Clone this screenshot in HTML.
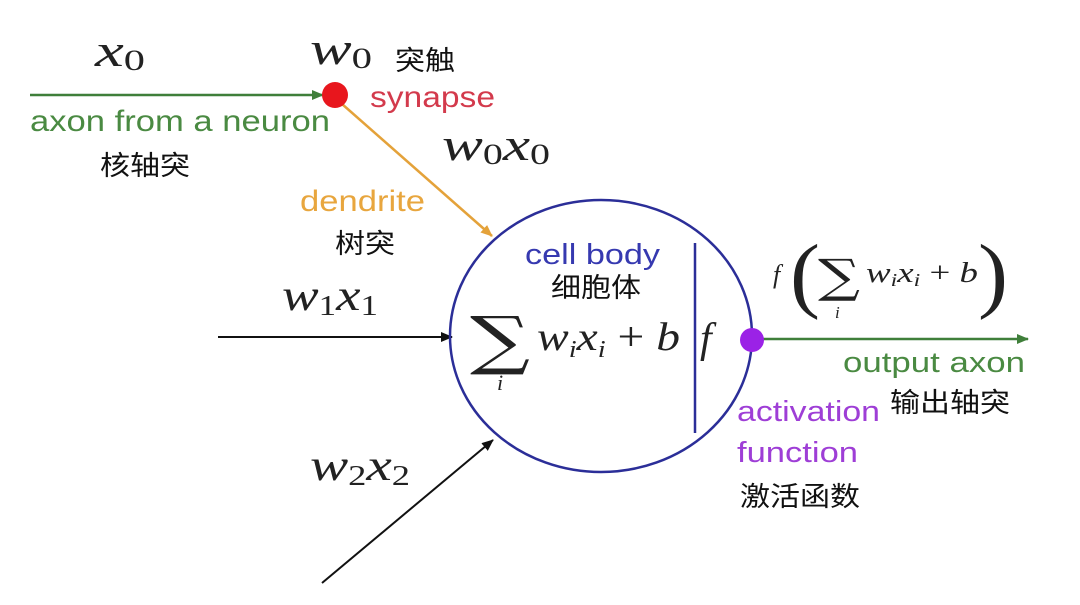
<!DOCTYPE html>
<html><head><meta charset="utf-8"><style>
html,body{margin:0;padding:0;background:#fff;}
svg{display:block;}
.m{font-family:"Liberation Serif",serif;font-style:italic;fill:#222;}
.s{font-family:"Liberation Sans",sans-serif;}
.c{font-family:"Liberation Sans","Noto Sans CJK SC",sans-serif;fill:#111;font-size:27px;}
</style></head><body>
<svg width="1080" height="605" viewBox="0 0 1080 605">
<defs>
<marker id="ag" markerWidth="12" markerHeight="10" refX="11" refY="5" orient="auto" markerUnits="userSpaceOnUse"><path d="M0,0 L12,5 L0,10z" fill="#3f7f3a"/></marker>
<marker id="ao" markerWidth="12" markerHeight="10" refX="11" refY="5" orient="auto" markerUnits="userSpaceOnUse"><path d="M0,0 L12,5 L0,10z" fill="#e4a23a"/></marker>
<marker id="ak" markerWidth="12" markerHeight="10" refX="11" refY="5" orient="auto" markerUnits="userSpaceOnUse"><path d="M0,0 L12,5 L0,10z" fill="#111"/></marker>
</defs>
<line x1="30" y1="95" x2="323" y2="95" stroke="#3f7f3a" stroke-width="2.5" marker-end="url(#ag)"/>
<line x1="342" y1="104" x2="492" y2="236" stroke="#e4a23a" stroke-width="2.5" marker-end="url(#ao)"/>
<line x1="218" y1="337" x2="452" y2="337" stroke="#111" stroke-width="2" marker-end="url(#ak)"/>
<line x1="322" y1="583" x2="493" y2="440" stroke="#111" stroke-width="2" marker-end="url(#ak)"/>
<ellipse cx="601" cy="336" rx="151" ry="136" fill="none" stroke="#2b2e98" stroke-width="2.5"/>
<line x1="695" y1="243" x2="695" y2="433" stroke="#2b2e98" stroke-width="2.5"/>
<line x1="760" y1="339" x2="1028" y2="339" stroke="#3f7f3a" stroke-width="2.5" marker-end="url(#ag)"/>
<circle cx="335" cy="95" r="13" fill="#e8161d"/>
<circle cx="752" cy="340" r="12" fill="#9b22e6"/>
<text class="m" x="95" y="66" font-size="46" textLength="50" lengthAdjust="spacingAndGlyphs">x<tspan font-size="30" font-style="normal" dy="4">0</tspan></text>
<text class="m" x="310" y="64" font-size="46" textLength="62" lengthAdjust="spacingAndGlyphs">w<tspan font-size="30" font-style="normal" dy="4">0</tspan></text>
<text class="c" x="395" y="70" textLength="60" lengthAdjust="spacingAndGlyphs">突触</text>
<text class="s" x="370" y="107" font-size="30" fill="#d33a4c" textLength="125" lengthAdjust="spacingAndGlyphs">synapse</text>
<text class="s" x="30" y="131" font-size="30" fill="#4a8a42" textLength="300" lengthAdjust="spacingAndGlyphs">axon from a neuron</text>
<text class="c" x="100" y="175" textLength="90" lengthAdjust="spacingAndGlyphs">核轴突</text>
<text class="m" x="442" y="160" font-size="46" textLength="108" lengthAdjust="spacingAndGlyphs">w<tspan font-size="30" font-style="normal" dy="4">0</tspan><tspan dy="-4">x</tspan><tspan font-size="30" font-style="normal" dy="4">0</tspan></text>
<text class="s" x="300" y="211" font-size="30" fill="#e8a63e" textLength="125" lengthAdjust="spacingAndGlyphs">dendrite</text>
<text class="c" x="335" y="253" textLength="60" lengthAdjust="spacingAndGlyphs">树突</text>
<text class="s" x="525" y="264" font-size="29" fill="#3639b0" textLength="135" lengthAdjust="spacingAndGlyphs">cell body</text>
<text class="c" x="551" y="297" textLength="90" lengthAdjust="spacingAndGlyphs">细胞体</text>
<text x="470" y="362" font-family="DejaVu Serif,serif" font-size="64" fill="#222" textLength="60" lengthAdjust="spacingAndGlyphs">∑</text>
<text class="m" x="497" y="390" font-size="22">i</text>
<text class="m" x="537" y="350" font-size="40" textLength="143" lengthAdjust="spacingAndGlyphs">w<tspan font-size="24" dy="7">i</tspan><tspan dy="-7">x</tspan><tspan font-size="24" dy="7">i</tspan><tspan dy="-7" font-style="normal"> + </tspan>b</text>
<text class="m" x="700" y="352" font-size="42">f</text>
<text class="m" x="773" y="283" font-size="26">f</text>
<text x="790" y="302" font-family="Liberation Serif,serif" font-size="84" fill="#222" textLength="30" lengthAdjust="spacingAndGlyphs">(</text>
<text x="818" y="292" font-family="DejaVu Serif,serif" font-size="46" fill="#222" textLength="42" lengthAdjust="spacingAndGlyphs">∑</text>
<text class="m" x="835" y="318" font-size="17">i</text>
<text class="m" x="866" y="282" font-size="28" textLength="112" lengthAdjust="spacingAndGlyphs">w<tspan font-size="18" dy="4">i</tspan><tspan dy="-4">x</tspan><tspan font-size="18" dy="4">i</tspan><tspan dy="-4" font-style="normal"> + </tspan>b</text>
<text x="978" y="302" font-family="Liberation Serif,serif" font-size="84" fill="#222" textLength="30" lengthAdjust="spacingAndGlyphs">)</text>
<text class="s" x="843" y="372" font-size="29" fill="#4a8a42" textLength="182" lengthAdjust="spacingAndGlyphs">output axon</text>
<text class="c" x="890" y="412" textLength="120" lengthAdjust="spacingAndGlyphs">输出轴突</text>
<text class="s" x="737" y="421" font-size="29" fill="#9e3ed6" textLength="143" lengthAdjust="spacingAndGlyphs">activation</text>
<text class="s" x="737" y="462" font-size="29" fill="#9e3ed6" textLength="121" lengthAdjust="spacingAndGlyphs">function</text>
<text class="c" x="740" y="506" textLength="120" lengthAdjust="spacingAndGlyphs">激活函数</text>
<text class="m" x="282" y="310" font-size="44" textLength="96" lengthAdjust="spacingAndGlyphs">w<tspan font-size="28" font-style="normal" dy="5">1</tspan><tspan dy="-5">x</tspan><tspan font-size="28" font-style="normal" dy="5">1</tspan></text>
<text class="m" x="310" y="480" font-size="44" textLength="100" lengthAdjust="spacingAndGlyphs">w<tspan font-size="28" font-style="normal" dy="5">2</tspan><tspan dy="-5">x</tspan><tspan font-size="28" font-style="normal" dy="5">2</tspan></text>
</svg>
</body></html>
